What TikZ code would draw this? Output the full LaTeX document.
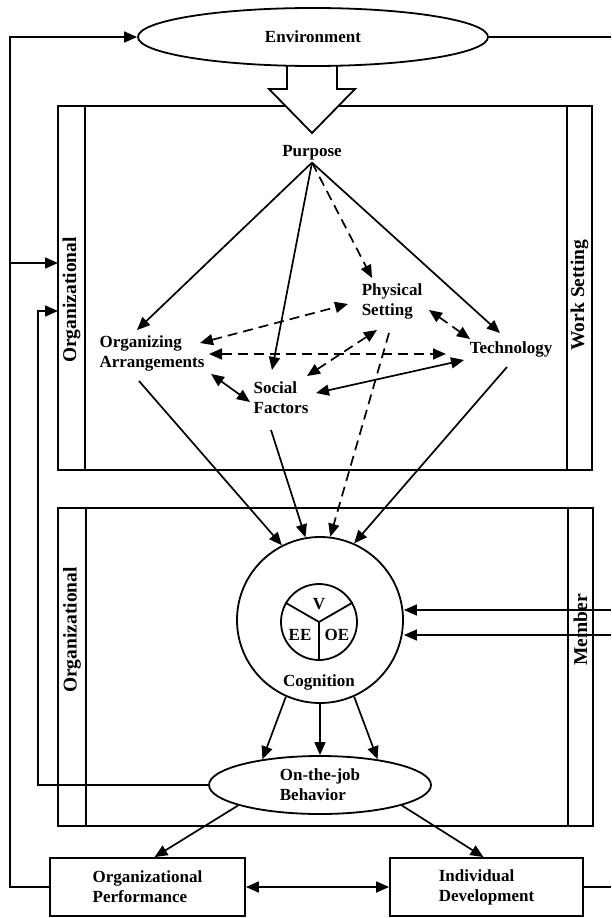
\documentclass[tikz,border=0pt]{standalone}
\usepackage{fontspec}
\setmainfont{Liberation Serif}
\usetikzlibrary{
	arrows.meta,
	positioning,
	calc,
	shapes.geometric
}
\tikzset{
	texto/.style={
		align=left,
		inner sep=2pt,
		font=\fontsize{17}{20}\selectfont\bfseries
	},
	rotulo/.style={
		texto,
		rotate=90,
		align=center,
		font=\fontsize{19.5}{22}\selectfont\bfseries
	},
	elipse/.style={
		ellipse,
		draw,
		line width=1.8pt,
		fill=white,
		inner sep=0pt,
		align=left,
		font=\fontsize{17}{20}\selectfont\bfseries
	},
	caja/.style={
		draw,
		line width=1.8pt,
		minimum height=58pt,
		inner sep=0pt,
		align=left,
		font=\fontsize{17}{20}\selectfont\bfseries
	},
	marco/.style={
		line width=1.8pt
	},
	flecha/.style={
		-{Triangle[length=13pt,width=11pt]},
		line width=1.7pt
	},
	flechaDoble/.style={
		{Triangle[length=13pt,width=11pt]}-{Triangle[length=13pt,width=11pt]},
		line width=1.7pt
	},
	flechaDisc/.style={
		flecha,
		dash pattern=on 10pt off 6pt
	},
	flechaDobleDisc/.style={
		flechaDoble,
		dash pattern=on 10pt off 6pt
	}
}

\begin{document}
\begin{tikzpicture}[x=1pt, y=-1pt]
	\useasboundingbox (0,0) rectangle (611,918);
	% marcos
	\draw[marco] (58,106) rectangle (592,470);
	\draw[marco] (85,106) -- (85,470) (567,106) -- (567,470);
	\draw[marco] (58,508) rectangle (593,826);
	\draw[marco] (86,508) -- (86,826) (568,508) -- (568,826);
	\node[rotulo] (orgSup) at (71.5,300) {Organizational};
	\node[rotulo] (trabajo) at (579.5,295) {Work Setting};
	\node[rotulo] (orgInf) at (72,630) {Organizational};
	\node[rotulo] (miembro) at (580.5,630) {Member};
	% entorno y flecha hueca
	\draw[marco, fill=white] (287,60) -- (287,89) -- (269,89) -- (312,133) -- (355,89) -- (337,89) -- (337,60);
	\node[elipse, minimum width=350pt, minimum height=58pt] (entorno) at (313,37) {Environment};
	% ambiente de trabajo
	\node[texto] (proposito) at (312,153) {Purpose};
	\node[texto] (organizacion) at (152,353) {Organizing\\Arrangements};
	\node[texto] (fisico) at (392,301) {Physical\\Setting};
	\node[texto] (tecnologia) at (511,349) {Technology};
	\node[texto] (social) at (281,398) {Social\\Factors};
	\draw[flecha] (proposito.south) -- ($(organizacion)+(-15,-23)$);
	\draw[flecha] (proposito.south) -- ($(social)+(-9,-28)$);
	\draw[flechaDisc] (proposito.south) -- ($(fisico)+(-20,-23)$);
	\draw[flecha] (proposito.south) -- ($(tecnologia)+(-11,-16)$);
	\draw[flechaDobleDisc] ($(organizacion)+(48,-10)$) -- ($(fisico)+(-44,3)$);
	\draw[flechaDobleDisc] ($(organizacion)+(57,1)$) -- ($(tecnologia)+(-65,5)$);
	\draw[flechaDobleDisc] ($(fisico)+(37,9)$) -- ($(tecnologia)+(-41,-10)$);
	\draw[flechaDobleDisc] ($(social)+(26,-22)$) -- ($(fisico)+(-15,29)$);
	\draw[flechaDoble] ($(organizacion)+(59,21)$) -- ($(social)+(-31,4)$);
	\draw[flechaDoble] ($(social)+(35,-5)$) -- ($(tecnologia)+(-47,11)$);
	% cognicion
	\node[circle, draw, line width=1.8pt, minimum size=166pt, inner sep=0pt] (cognicion) at (320,620) {};
	\node[circle, draw, line width=1.8pt, minimum size=76pt, inner sep=0pt] (nucleo) at (319,622) {};
	\draw[marco] (nucleo.center) -- (nucleo.150) (nucleo.center) -- (nucleo.30) (nucleo.center) -- (nucleo.south);
	\node[texto] (valencia) at (319,604) {V};
	\node[texto] (expEE) at (300,635) {EE};
	\node[texto] (expOE) at (337,635) {OE};
	\node[texto] (etiqCog) at (319,682) {Cognition};
	\draw[flecha] ($(organizacion)+(-13,28)$) -- (cognicion.117);
	\draw[flecha] ($(social)+(-10,32)$) -- (cognicion.100);
	\draw[flechaDisc] ($(fisico)+(-3,32)$) -- (cognicion.83);
	\draw[flecha] ($(tecnologia)+(-4,18)$) -- (cognicion.66);
	\coordinate (derCogA) at (611,610);
	\coordinate (derCogB) at (611,635);
	\draw[flecha] (derCogA) -- (derCogA -| cognicion.east);
	\draw[flecha] (derCogB) -- (derCogB -| cognicion.east);
	% conducta y resultados
	\node[elipse, minimum width=222pt, minimum height=58pt] (conducta) at (320,785) {On-the-job\\Behavior};
	\draw[flecha] (cognicion.-114) -- (conducta.156);
	\draw[flecha] (cognicion.south) -- (conducta.north);
	\draw[flecha] (cognicion.-66) -- (conducta.24);
	\node[caja, minimum width=195pt] (desempeno) at (147.5,887) {Organizational\\Performance};
	\node[caja, minimum width=193pt] (desarrollo) at (486.5,887) {Individual\\Development};
	\draw[flecha] (conducta.194) -- ($(desempeno.north)+(7,0)$);
	\draw[flecha] (conducta.-14) -- ($(desarrollo.north)+(-3,0)$);
	\draw[flechaDoble] (desempeno.east) -- (desarrollo.west);
	% lazos de retroalimentacion
	\coordinate (izqAbajo) at (10,887);
	\coordinate (izqArriba) at (10,37);
	\coordinate (izqRama) at (10,263);
	\coordinate (marcoRama) at (58,263);
	\draw[flecha] (desempeno.west) -- (izqAbajo) -- (izqArriba) -- (entorno.west);
	\draw[flecha] (izqRama) -- (marcoRama);
	\coordinate (retroAbajo) at (38,785);
	\coordinate (retroArriba) at (38,311);
	\coordinate (retroMarco) at (58,311);
	\draw[flecha] (conducta.west) -- (retroAbajo) -- (retroArriba) -- (retroMarco);
	\coordinate (derArriba) at (611,37);
	\coordinate (derAbajo) at (611,887);
	\draw[marco] (entorno.east) -- (derArriba);
	\draw[marco] (desarrollo.east) -- (derAbajo);
\end{tikzpicture}
\end{document}
